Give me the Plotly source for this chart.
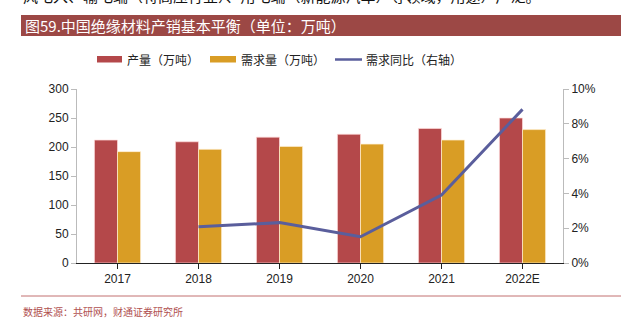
import plotly.graph_objects as go

categories = ["2017", "2018", "2019", "2020", "2021", "2022E"]
production = [212, 209, 217, 222, 232, 250]
demand = [192, 196, 201, 205, 212, 230]
demand_yoy = [None, 0.0209, 0.0232, 0.0151, 0.0391, 0.0883]

left_ticks = [0, 50, 100, 150, 200, 250, 300]
right_ticks = [0, 0.02, 0.04, 0.06, 0.08, 0.10]

names = ["产量（万吨）", "需求量（万吨）", "需求同比（右轴）"]

RED = "#b4484a"
YEL = "#d99d25"
LINE = "#5a5e9c"
FONT = "Liberation Sans, Noto Sans CJK SC, sans-serif"
CJK = "Noto Sans CJK SC, sans-serif"

W, H = 621, 324
L, R, T, B = 77, 58, 89, 61
PW, PH = W - L - R, H - T - B


def px(x):
    return (x - L) / PW


def py(y):
    return (H - B - y) / PH


fig = go.Figure()
fig.add_trace(go.Bar(x=categories, y=production, name=names[0], marker_color=RED,
                     marker_line=dict(color="rgba(255,220,220,0.7)", width=1)))
fig.add_trace(go.Bar(x=categories, y=demand, name=names[1], marker_color=YEL,
                     marker_line=dict(color="rgba(255,240,210,0.7)", width=1)))
fig.add_trace(go.Scatter(x=categories, y=demand_yoy, name=names[2], mode="lines",
                         line=dict(color=LINE, width=3), yaxis="y2", connectgaps=False))

fig.update_layout(
    width=W, height=H,
    margin=dict(l=L, r=R, t=T, b=B, autoexpand=False),
    paper_bgcolor="white", plot_bgcolor="white",
    barmode="group", bargap=0.43, bargroupgap=0,
    font=dict(family=FONT, size=12, color="#222"),
    showlegend=False,
    xaxis=dict(showline=True, linecolor="#222", linewidth=1, ticks="outside", ticklen=5,
               tickcolor="#222", tickfont=dict(size=12, family=FONT, color="#222"), showgrid=False),
    yaxis=dict(range=[0, 300], tickvals=left_ticks, showline=True, linecolor="#bbb", linewidth=1,
               ticks="outside", ticklen=5, tickcolor="#bbb", showgrid=False, zeroline=False,
               tickfont=dict(size=12, family=FONT, color="#222")),
    yaxis2=dict(range=[0, 0.10], tickvals=right_ticks, tickformat=".0%", overlaying="y", side="right",
                showline=True, linecolor="#bbb", linewidth=1, ticks="outside", ticklen=5, tickcolor="#bbb",
                showgrid=False, zeroline=False, tickfont=dict(size=12, family=FONT, color="#222")),
)

shapes = [
    dict(type="rect", xref="paper", yref="paper", x0=px(21), x1=px(621),
         y0=py(36), y1=py(15), fillcolor="#9c4845", line=dict(width=0), layer="below"),
    dict(type="line", xref="paper", yref="paper", x0=px(21), x1=px(621),
         y0=py(296), y1=py(296), line=dict(color="#c27070", width=1)),
    # legend swatches
    dict(type="rect", xref="paper", yref="paper", x0=px(97), x1=px(122), y0=py(62.5), y1=py(56),
         fillcolor=RED, line=dict(width=0)),
    dict(type="rect", xref="paper", yref="paper", x0=px(210), x1=px(236), y0=py(62.5), y1=py(56),
         fillcolor=YEL, line=dict(width=0)),
    dict(type="line", xref="paper", yref="paper", x0=px(335), x1=px(362), y0=py(59.5), y1=py(59.5),
         line=dict(color=LINE, width=2.5)),
]
fig.update_layout(shapes=shapes)

for xs, nm in zip([125, 239, 364], names):
    fig.add_annotation(text=nm, xref="paper", yref="paper", x=px(xs), y=py(60),
                       xanchor="left", yanchor="middle", showarrow=False,
                       font=dict(family=CJK, size=12, color="#222"))

fig.add_annotation(text="图59.中国绝缘材料产销基本平衡（单位：万吨）", xref="paper", yref="paper",
                   x=px(23), y=py(25.5), xanchor="left", yanchor="middle", showarrow=False,
                   font=dict(family=CJK, size=15, color="white"))
fig.add_annotation(text="数据来源：共研网，财通证券研究所", xref="paper", yref="paper",
                   x=px(21), y=py(311.5), xanchor="left", yanchor="middle", showarrow=False,
                   font=dict(family=CJK, size=10, color="#b05050"))
fig.add_annotation(text="风电入、输电端（特高压行业）、用电端（新能源汽车）等领域，用途）广泛。", xref="paper", yref="paper",
                   x=px(21), y=py(-4), xanchor="left", yanchor="middle", showarrow=False,
                   font=dict(family=CJK, size=15, color="#111"))

fig.write_html("out.html")
